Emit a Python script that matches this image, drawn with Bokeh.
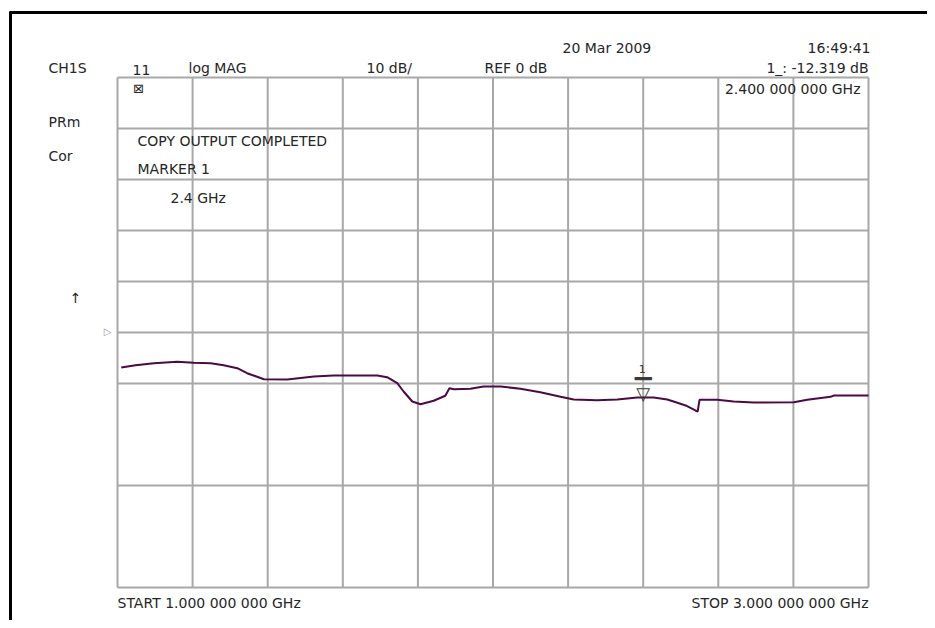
from bokeh.plotting import figure
from bokeh.models import Range1d
from bokeh.core.properties import value
from bokeh.embed import file_html
from bokeh.resources import INLINE

# ---------------- data ----------------
freq_ghz = [1.010, 1.048, 1.097, 1.159, 1.203, 1.248, 1.283, 1.319, 1.345,
            1.390, 1.452, 1.523, 1.576, 1.692, 1.718, 1.745, 1.762, 1.785,
            1.807, 1.842, 1.873, 1.884, 1.896, 1.940, 1.975, 2.020, 2.073,
            2.126, 2.180, 2.215, 2.277, 2.331, 2.384, 2.428, 2.464, 2.481,
            2.513, 2.539, 2.545, 2.550, 2.597, 2.641, 2.694, 2.801, 2.837,
            2.899, 2.908, 3.000]
s11_db = [-6.86, -6.41, -6.02, -5.75, -5.94, -6.02, -6.41, -7.00, -7.98,
          -9.16, -9.22, -8.63, -8.43, -8.43, -8.76, -9.94, -11.57, -13.53,
          -14.06, -13.39, -12.41, -10.92, -11.12, -11.04, -10.59, -10.59, -11.04,
          -11.71, -12.61, -13.14, -13.27, -13.14, -12.75, -12.75, -13.14, -13.53,
          -14.31, -15.29, -15.50, -13.20, -13.20, -13.53, -13.73, -13.67, -13.20,
          -12.61, -12.35, -12.35]
marker_freq = [2.4]
marker_db = [-12.319]
marker_label = ["1"]

start_ghz, stop_ghz = 1.0, 3.0
ref_db, scale_db_div = 0.0, 10.0
n_x_div = 10
y_grid_db = [50, 40, 30, 20, 10, 0, -10, -30, -50]

# ---------------- geometry ----------------
W, H = 927, 620
GL, GT, GR, GB = 117, 77, 868, 587   # graticule edges in canvas pixels
top_db = ref_db + 5 * scale_db_div
bot_db = ref_db - 5 * scale_db_div
ghz_per_px = (stop_ghz - start_ghz) / (GR - GL)
db_per_px = (top_db - bot_db) / (GB - GT)

def dx(px):
    return start_ghz + (px - GL) * ghz_per_px
def dy(py):
    return top_db - (py - GT) * db_per_px

p = figure(width=W, height=H, output_backend="svg", toolbar_location=None,
           x_range=Range1d(dx(0), dx(W)), y_range=Range1d(dy(H), dy(0)),
           x_axis_location=None, y_axis_location=None,
           min_border=0)
p.grid.visible = False
p.outline_line_color = None
p.background_fill_color = "white"
p.border_fill_color = "white"

# graticule
step = (stop_ghz - start_ghz) / n_x_div
vx = [start_ghz + k * step for k in range(n_x_div + 1)]
p.segment(x0=vx, y0=[bot_db] * len(vx), x1=vx, y1=[top_db] * len(vx),
          line_color="#a8a8a8", line_width=2)
p.segment(x0=[start_ghz] * len(y_grid_db), y0=y_grid_db,
          x1=[stop_ghz] * len(y_grid_db), y1=y_grid_db,
          line_color="#a8a8a8", line_width=2)

# page border (top and left)
p.segment(x0=[dx(9), dx(10)], y0=[dy(12), dy(11)],
          x1=[dx(W), dx(10)], y1=[dy(12), dy(H)],
          line_color="black", line_width=3)

# trace
p.line(freq_ghz, s11_db, line_color="#4a0a45", line_width=2)

# marker symbol
MC = "#3a3a3a"
p.text(x=marker_freq, y=marker_db, text=["\u25bd"], text_align="center",
       text_baseline="alphabetic", text_font=value("DejaVu Sans"),
       text_font_size="18px", text_color=MC, y_offset=-2)
for off in (-17, -16):
    p.text(x=marker_freq, y=marker_db, text=["\u2501\u2501"], text_align="center",
           text_baseline="middle", text_font=value("DejaVu Sans"),
           text_font_size="14px", text_font_style="bold", text_color=MC,
           y_offset=off)
p.text(x=marker_freq, y=marker_db, text=marker_label, text_align="center",
       text_baseline="middle", text_font=value("DejaVu Sans"),
       text_font_size="11px", text_color=MC, y_offset=-26, x_offset=-1)

FONT = "DejaVu Sans"
COL = "#262626"
def lab(txt, px, py, size=14, align="left", color=COL):
    p.text(x=[dx(px)], y=[dy(py)], text=[txt], text_align=align,
           text_baseline="middle", text_font=value(FONT),
           text_font_size=f"{size}px", text_color=color)

# header
lab("20 Mar 2009", 562, 47)
lab("16:49:41", 870, 47, align="right")
lab("CH1S", 48, 67)
lab("11", 132, 69)
lab("log MAG", 188, 67)
lab("10 dB/", 366, 67)
lab("REF 0 dB", 484, 67)
lab("1_: -12.319 dB", 868, 67, align="right")

# left status
lab("PRm", 48, 121)
lab("Cor", 48, 155)
lab("\u2191", 75, 297, align="center")
lab("\u25b7", 107, 331, size=10, align="center", color="#9a9a9a")

# in-grid annotations
lab("\u22a0", 138, 88, size=13, align="center")
lab("2.400 000 000 GHz", 860, 88, align="right")
lab("COPY OUTPUT COMPLETED", 137, 140)
lab("MARKER 1", 137, 168)
lab("2.4 GHz", 170, 197)

# footer
lab("START 1.000 000 000 GHz", 117, 602)
lab("STOP 3.000 000 000 GHz", 868, 602, align="right")

open("out.html", "w").write(file_html(p, INLINE))
